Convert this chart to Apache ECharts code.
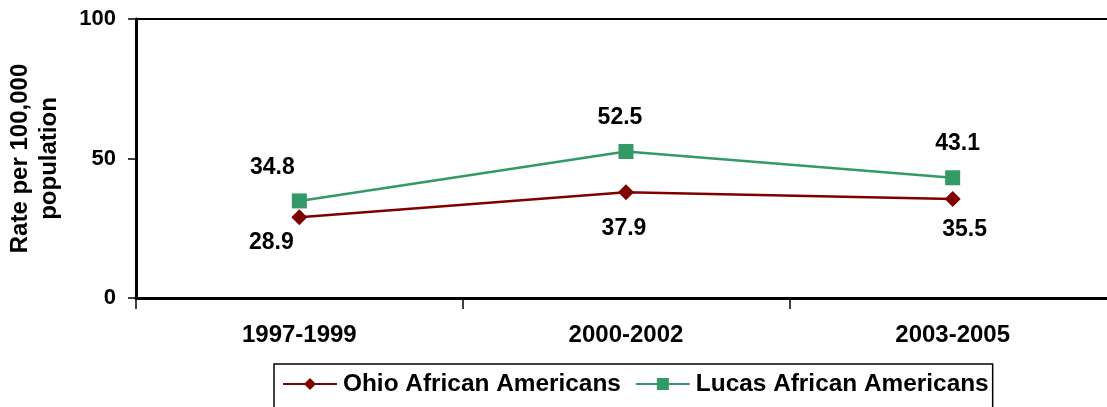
<!DOCTYPE html>
<html>
<head>
<meta charset="utf-8">
<script src="https://cdn.jsdelivr.net/npm/echarts@6/dist/echarts.min.js"></script>
<style>
html,body{margin:0;padding:0;background:#fff;}
#chart{width:1107px;height:407px;}
</style>
</head>
<body>
<div id="chart"></div>
<script>
var categories = ['1997-1999', '2000-2002', '2003-2005'];
var ohioValues = [28.9, 37.9, 35.5];
var lucasValues = [34.8, 52.5, 43.1];
var yTicks = [0, 50, 100];
var seriesNames = ['Ohio African Americans', 'Lucas African Americans'];

// label offsets (styling only)
var ohioLabelOffsets = [[-28, 25], [-2, 36], [12, 31]];
var lucasLabelOffsets = [[-27, -33], [-6, -34], [5, -34]];

var FONT = 'Liberation Sans, Arial, sans-serif';

function buildData(values, offsets) {
  return values.map(function (v, i) {
    return { value: v, label: { offset: offsets[i] } };
  });
}

var chart = echarts.init(document.getElementById('chart'));
chart.setOption({
  animation: false,
  backgroundColor: '#fff',
  grid: {
    left: 136, width: 980, top: 19, height: 279,
    containLabel: false,
    outerBoundsMode: 'none',
    show: true, borderColor: '#000', borderWidth: 2, backgroundColor: 'transparent'
  },
  legend: {
    data: seriesNames,
    left: 274, top: 364,
    orient: 'horizontal',
    borderColor: '#000', borderWidth: 1.5,
    padding: [8, 4, 20, 8],
    itemWidth: 54, itemHeight: 15, itemGap: 14,
    textStyle: { fontFamily: FONT, fontWeight: 'bold', fontSize: 24.4, color: '#000', padding: [0, 0, 0, 1] }
  },
  xAxis: {
    type: 'category',
    data: categories,
    boundaryGap: true,
    axisLine: { show: true, lineStyle: { color: '#000', width: 3 } },
    axisTick: { show: true, length: 11, lineStyle: { color: '#000', width: 1.5 } },
    axisLabel: { fontFamily: FONT, fontWeight: 'bold', fontSize: 24, color: '#000', margin: 25 },
    splitLine: { show: false }
  },
  yAxis: {
    type: 'value',
    min: 0, max: 100, interval: 50,
    name: 'Rate per 100,000\npopulation',
    nameLocation: 'middle',
    nameGap: 72,
    nameRotate: 90,
    nameTextStyle: { fontFamily: FONT, fontWeight: 'bold', fontSize: 24, color: '#000', lineHeight: 29 },
    axisLine: { show: true, lineStyle: { color: '#000', width: 3 } },
    axisTick: { show: true, length: 8, lineStyle: { color: '#000', width: 1.5 } },
    axisLabel: {
      fontFamily: FONT, fontWeight: 'bold', fontSize: 22, color: '#000', margin: 20,
      formatter: function (v) { return yTicks.indexOf(v) >= 0 ? String(v) : ''; }
    },
    splitLine: { show: false }
  },
  series: [
    {
      name: seriesNames[0],
      type: 'line',
      data: buildData(ohioValues, ohioLabelOffsets),
      symbol: 'diamond',
      symbolSize: 16,
      color: '#800000',
      itemStyle: { color: '#800000' },
      lineStyle: { color: '#800000', width: 2.5 },
      label: {
        show: true, position: 'inside',
        fontFamily: FONT, fontWeight: 'bold', fontSize: 23, color: '#000',
        formatter: function (p) { return p.value.toFixed(1); }
      },
      z: 3
    },
    {
      name: seriesNames[1],
      type: 'line',
      data: buildData(lucasValues, lucasLabelOffsets),
      symbol: 'rect',
      symbolSize: 15,
      color: '#339966',
      itemStyle: { color: '#339966' },
      lineStyle: { color: '#339966', width: 2.5 },
      label: {
        show: true, position: 'inside',
        fontFamily: FONT, fontWeight: 'bold', fontSize: 23, color: '#000',
        formatter: function (p) { return p.value.toFixed(1); }
      },
      z: 3
    }
  ]
});
</script>
</body>
</html>
